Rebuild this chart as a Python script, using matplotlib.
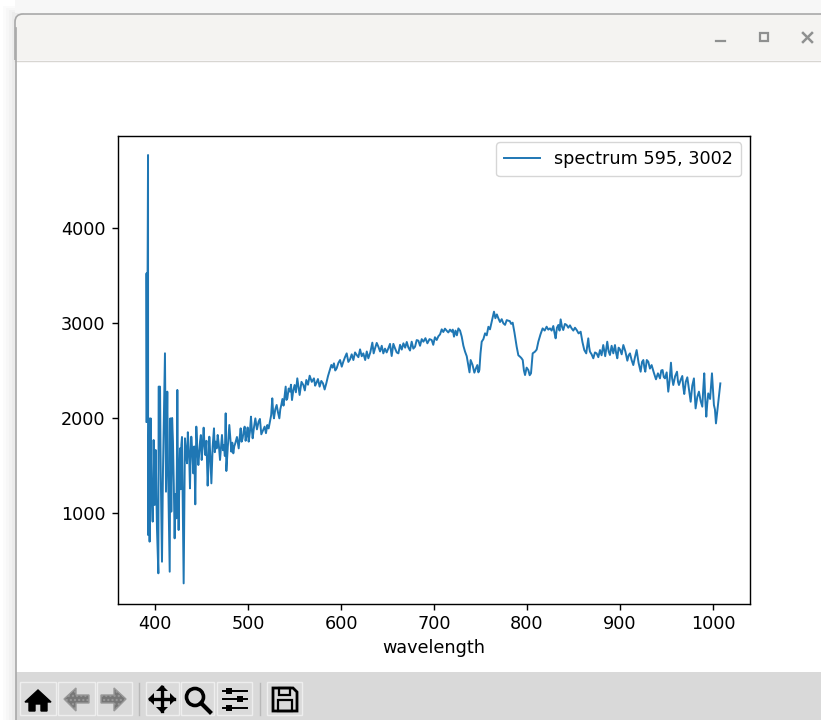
import matplotlib
matplotlib.use('Agg')
import matplotlib.pyplot as plt
from matplotlib.patches import Rectangle, Polygon, Circle, FancyBboxPatch

##### spectrum values #####
wavelength = [390.7, 390.9, 391.4, 392.5, 392.6, 393.5, 394.2, 395.3, 396.0, 397.5, 398.5, 399.6, 400.7, 402.1, 403.6,
              403.9, 405.4, 406.1, 407.5, 408.6, 410.7, 411.8, 413.2, 414.0, 415.8, 416.5, 417.0, 417.5, 418.4, 419.3,
              420.2, 421.1, 422.0, 422.9, 423.5, 424.0, 424.7, 425.4, 426.2, 426.9, 427.6, 428.3, 429.0, 429.8, 430.8,
              432.2, 433.3, 434.4, 435.3, 436.2, 436.9, 437.6, 438.3, 439.0, 440.1, 441.2, 442.2, 443.3, 443.9, 444.4,
              445.5, 446.6, 447.5, 448.4, 449.3, 450.2, 451.2, 452.3, 453.2, 454.1, 455.3, 456.6, 457.5, 458.4, 459.5,
              460.6, 462.0, 463.4, 464.3, 465.2, 466.3, 467.4, 468.6, 469.9, 471.0, 472.0, 473.1, 474.2, 475.1, 476.0,
              476.7, 478.3, 479.9, 481.0, 482.1, 483.1, 484.2, 485.2, 486.3, 488.1, 490.0, 491.0, 492.1, 493.1, 494.2,
              495.3, 496.4, 497.4, 498.5, 499.6, 500.7, 502.0, 503.2, 504.1, 505.0, 506.4, 507.9, 509.6, 511.4, 512.8,
              514.3, 516.1, 517.9, 519.3, 520.8, 522.2, 523.6, 524.9, 526.1, 527.0, 527.9, 529.3, 530.8, 532.2, 533.7,
              534.7, 535.8, 537.0, 538.2, 539.4, 540.5, 541.4, 542.3, 543.7, 545.1, 546.2, 547.3, 548.7, 550.1, 551.5,
              553.0, 554.2, 555.5, 557.5, 559.5, 561.1, 562.7, 564.5, 566.3, 568.6, 570.9, 572.2, 573.4, 575.2, 577.0,
              578.8, 580.6, 582.4, 584.2, 586.0, 587.8, 589.6, 591.0, 592.4, 593.8, 595.3, 597.2, 599.0, 600.8, 602.5,
              604.3, 606.1, 607.9, 609.7, 611.5, 613.3, 615.1, 616.9, 618.7, 620.5, 622.3, 624.0, 626.0, 627.7, 629.4,
              631.5, 633.7, 635.1, 636.6, 638.4, 640.2, 642.0, 643.8, 645.5, 647.3, 649.1, 650.9, 652.7, 654.5, 656.3,
              658.1, 659.9, 661.7, 663.5, 665.3, 667.1, 669.0, 670.7, 672.4, 674.2, 676.0, 677.8, 679.6, 681.4, 683.2,
              685.0, 686.8, 688.6, 690.8, 692.9, 695.2, 697.5, 699.2, 701.0, 702.9, 704.7, 706.5, 708.3, 710.0, 711.8,
              713.6, 715.4, 717.2, 719.0, 720.2, 721.5, 723.1, 724.6, 726.2, 728.0, 729.8, 731.6, 733.4, 735.2, 736.9,
              738.2, 739.4, 741.4, 743.4, 745.0, 746.6, 747.7, 748.8, 750.0, 751.3, 753.1, 754.9, 756.7, 758.5, 760.2,
              762.0, 764.5, 766.0, 767.6, 769.2, 771.0, 772.8, 774.6, 776.4, 778.2, 779.9, 781.5, 783.0, 784.6, 786.5,
              788.9, 790.7, 792.5, 794.0, 795.4, 796.7, 797.9, 799.6, 801.4, 802.9, 804.3, 806.1, 808.6, 810.4, 812.2,
              814.5, 816.8, 819.0, 821.1, 822.9, 824.7, 826.5, 828.3, 829.5, 830.8, 832.2, 833.7, 835.0, 836.2, 837.6,
              839.0, 840.8, 842.6, 844.4, 846.2, 848.0, 849.8, 851.6, 853.4, 855.5, 857.7, 859.6, 861.6, 863.7, 865.9,
              866.8, 867.7, 869.5, 871.3, 873.1, 874.9, 876.7, 878.5, 880.2, 882.0, 884.1, 886.3, 887.8, 889.2, 891.0,
              892.8, 894.6, 895.9, 897.1, 898.5, 900.0, 901.8, 903.6, 905.8, 907.9, 909.3, 910.7, 912.5, 914.3, 916.1,
              917.9, 920.0, 922.2, 923.7, 925.1, 926.2, 927.2, 928.8, 930.4, 932.2, 934.0, 936.3, 938.7, 940.8, 943.0,
              944.4, 945.8, 947.1, 948.4, 950.2, 951.9, 953.4, 954.8, 956.0, 957.3, 959.3, 961.3, 962.4, 963.4, 965.2,
              967.0, 968.0, 969.1, 970.7, 972.4, 974.2, 976.0, 977.7, 979.5, 980.4, 981.3, 983.1, 984.9, 986.7, 988.5,
              989.5, 990.6, 991.7, 992.8, 993.8, 994.9, 996.9, 998.9, 1000.0, 1001.0, 1002.1, 1003.2, 1005.5, 1007.9]
flux = [1961, 3523, 1961, 4768, 768, 1996, 698, 1996, 1295, 909, 1768, 1084, 1663, 838, 365,
        2330, 2330, 1470, 487, 1470, 2681, 1224, 2277, 1470, 382, 1996, 1500, 1014, 2000, 1751,
        1300, 733, 1200, 944, 1500, 2295, 1300, 821, 1400, 1680, 1250, 1716, 1800, 1100, 259,
        1786, 1640, 1523, 1850, 1698, 1540, 1259, 1600, 1803, 1650, 1417, 1700, 1091, 1500, 1909,
        1680, 1505, 1620, 1751, 1820, 1558, 1700, 1898, 1720, 1610, 1760, 1288, 1500, 1803, 1600,
        1312, 1700, 1891, 1640, 1751, 1680, 1821, 1720, 1558, 1700, 1821, 1660, 1716, 1600, 2049,
        1442, 1700, 1926, 1780, 1645, 1740, 1628, 1700, 1733, 1800, 1680, 1790, 1891, 1750, 1786,
        1860, 1909, 1760, 1821, 1900, 1751, 1850, 2014, 1880, 1786, 1900, 1996, 1880, 1961, 1990,
        1828, 1870, 1909, 1840, 1926, 1890, 1961, 2030, 2207, 2060, 1996, 2090, 2137, 2060, 1996,
        2090, 2137, 2200, 2130, 2240, 2330, 2190, 2207, 2310, 2277, 2350, 2189, 2290, 2347, 2270,
        2417, 2330, 2242, 2380, 2347, 2290, 2400, 2350, 2445, 2380, 2417, 2340, 2365, 2410, 2330,
        2390, 2365, 2300, 2365, 2440, 2500, 2558, 2530, 2575, 2500, 2522, 2580, 2610, 2540, 2593,
        2640, 2680, 2590, 2617, 2670, 2610, 2690, 2663, 2640, 2722, 2650, 2680, 2610, 2700, 2628,
        2690, 2793, 2680, 2733, 2790, 2750, 2700, 2760, 2680, 2730, 2690, 2733, 2780, 2652, 2780,
        2733, 2690, 2680, 2770, 2720, 2786, 2740, 2800, 2743, 2710, 2803, 2730, 2750, 2820, 2814,
        2760, 2830, 2803, 2840, 2786, 2830, 2821, 2770, 2850, 2821, 2860, 2880, 2933, 2905, 2940,
        2919, 2900, 2930, 2908, 2930, 2856, 2920, 2870, 2943, 2920, 2856, 2760, 2698, 2650, 2557,
        2480, 2610, 2560, 2477, 2520, 2557, 2480, 2505, 2680, 2803, 2830, 2891, 2870, 2960, 2933,
        3010, 3119, 3050, 3090, 3049, 3010, 3040, 2996, 2980, 3030, 3024, 3020, 2990, 3003, 2900,
        2750, 2660, 2645, 2630, 2610, 2500, 2452, 2530, 2505, 2450, 2470, 2680, 2698, 2720, 2803,
        2880, 2943, 2920, 2961, 2930, 2943, 2920, 2968, 2900, 2838, 2950, 2979, 2920, 3038, 2960,
        2926, 2990, 2979, 2950, 2975, 2943, 2920, 2950, 2926, 2890, 2908, 2800, 2715, 2680, 2838,
        2750, 2698, 2670, 2628, 2690, 2680, 2640, 2715, 2660, 2768, 2650, 2803, 2700, 2663, 2760,
        2680, 2768, 2680, 2628, 2740, 2722, 2670, 2768, 2700, 2603, 2660, 2680, 2610, 2557, 2640,
        2715, 2580, 2487, 2590, 2610, 2530, 2487, 2610, 2593, 2520, 2557, 2480, 2407, 2470, 2417,
        2500, 2505, 2430, 2417, 2480, 2277, 2400, 2582, 2420, 2347, 2440, 2487, 2380, 2347, 2400,
        2442, 2330, 2252, 2380, 2428, 2300, 2171, 2340, 2417, 2240, 2101, 2220, 2277, 2180, 2119,
        2300, 2470, 2200, 2014, 2150, 2259, 2200, 2470, 2300, 2136, 2090, 1943, 2150, 2364]
xticks = [400, 500, 600, 700, 800, 900, 1000]
yticks = [1000, 2000, 3000, 4000]
button_boxes = [(20, 56), (58, 95), (97, 132), (146, 179), (181, 214), (217, 252), (267, 302)]

W, H = 821, 720
SCALE = 1.27  # the screenshot is a HiDPI window, everything is about 1.27x
plt.rcParams['font.size'] = 10*SCALE
plt.rcParams['axes.linewidth'] = 0.8*SCALE
plt.rcParams['xtick.major.size'] = 3.5*SCALE
plt.rcParams['ytick.major.size'] = 3.5*SCALE
plt.rcParams['xtick.major.width'] = 0.8*SCALE
plt.rcParams['ytick.major.width'] = 0.8*SCALE
plt.rcParams['ytick.major.pad'] = 4.5

fig = plt.figure(figsize=(W/100, H/100), dpi=100, facecolor='white')

# window decoration, in pixel coordinates
bg = fig.add_axes([0, 0, 1, 1], zorder=0)
bg.set_xlim(0, W)
bg.set_ylim(H, 0)
bg.axis('off')
for i, c in enumerate(['#fbfbfb', '#f7f7f7', '#f2f2f2', '#ececec']):
    bg.add_patch(Rectangle((3+i*3, 6+i*2), 12, H, fc=c, ec='none'))
bg.add_patch(Rectangle((15, 0), W, 13, fc='#f7f7f7', ec='none'))
bg.add_patch(FancyBboxPatch((23, 22), W, 60, boxstyle='round,pad=8', fc='#f4f3f1', ec='#a8a8a8', lw=1.2))
bg.add_patch(Rectangle((13, 60), 3, 40, fc='#ececec', ec='none'))  # hide the rest of the title box outline
bg.add_patch(Rectangle((15.5, 60), W, 612, fc='white', ec='none'))
bg.plot([15, W], [60.5, 60.5], color='#d8d6d2', lw=1)
bg.plot([15.5, 15.5], [28, H], color='#a8a8a8', lw=1.2)
bg.add_patch(Rectangle((16, 672), W, 48, fc='#d9d9d9', ec='none'))

# window buttons
bg.plot([716, 725], [40.5, 40.5], color='#8f9090', lw=1.6)
bg.add_patch(Rectangle((760, 33), 8, 8, fc='none', ec='#8f9090', lw=1.6))
bg.plot([803, 812], [33, 42], color='#8f9090', lw=1.8)
bg.plot([803, 812], [42, 33], color='#8f9090', lw=1.8)

# toolbar
for x0, x1 in button_boxes:
    bg.add_patch(Rectangle((x0, 682), x1-x0, 33, fc='#dadada', ec='#eeeeee', lw=1))
for x in [138.5, 259.5]:
    bg.plot([x, x], [683, 715], color='#b8b8b8', lw=1)
bg.add_patch(Polygon([(25, 702), (38, 690), (51, 702), (47, 702), (47, 711), (41, 711), (41, 704), (35, 704), (35, 711), (29, 711), (29, 702)], fc='black', ec='black'))
bg.add_patch(Polygon([(64, 699), (76, 688), (76, 695), (89, 695), (89, 703), (76, 703), (76, 711)], fc='#777777', ec='#999999', hatch='....'))
bg.add_patch(Polygon([(126, 699), (114, 688), (114, 695), (101, 695), (101, 703), (114, 703), (114, 711)], fc='#777777', ec='#999999', hatch='....'))
# move tool: a cross with four small heads
bg.plot([150, 174], [699, 699], color='black', lw=2.4)
bg.plot([162, 162], [687, 711], color='black', lw=2.4)
bg.add_patch(Polygon([(148, 699), (154, 693), (154, 705)], fc='black', ec='none'))
bg.add_patch(Polygon([(176, 699), (170, 693), (170, 705)], fc='black', ec='none'))
bg.add_patch(Polygon([(162, 685), (156, 691), (168, 691)], fc='black', ec='none'))
bg.add_patch(Polygon([(162, 713), (156, 707), (168, 707)], fc='black', ec='none'))
bg.add_patch(Circle((195, 697), 8.5, fc='none', ec='black', lw=2.6))
bg.plot([201, 210], [703, 712], color='black', lw=3)
for y, xm in [(691, 229), (699, 240), (708, 229)]:
    bg.plot([223, 247], [y, y], color='black', lw=1.4)
    bg.add_patch(Rectangle((xm-3, y-3), 6, 6, fc='black', ec='none'))
bg.add_patch(Polygon([(273, 688), (293, 688), (297, 692), (297, 711), (273, 711)], fc='none', ec='black', lw=2))
bg.add_patch(Rectangle((279, 688), 11, 7, fc='none', ec='black', lw=1.6))
bg.add_patch(Rectangle((278, 700), 14, 11, fc='none', ec='black', lw=1.6))

# the actual plot
ax = fig.add_axes([118/W, 1-604/H, (750-118)/W, (604-136)/H], zorder=1)
ax.plot(wavelength, flux, lw=1.4, label='spectrum 595, 3002')
ax.set_xlim(360.2, 1039.8)
ax.set_ylim(42, 4968)
ax.set_xticks(xticks)
ax.set_yticks(yticks)
ax.set_xlabel('wavelength')
ax.legend(loc='upper right', borderpad=0.45, handlelength=2.05, bbox_to_anchor=(1, 1.005))

fig.savefig('out.png', dpi=100)
